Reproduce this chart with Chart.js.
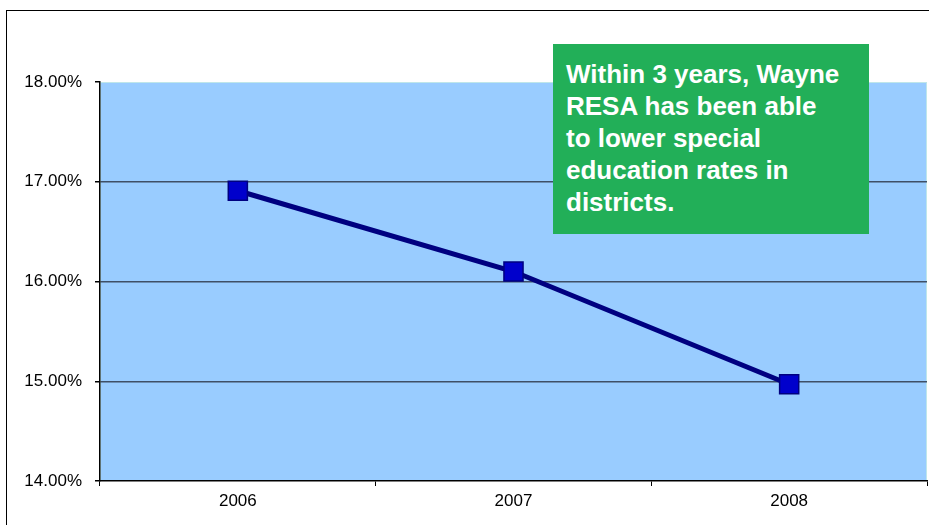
<!DOCTYPE html>
<html>
<head>
<meta charset="utf-8">
<script src="https://cdn.jsdelivr.net/npm/chart.js@4/dist/chart.umd.min.js"></script>
<style>
  body { margin: 0; background: #fff; }
  #wrap { position: relative; width: 929px; height: 525px; }
  #frame { position: absolute; left: 6px; top: 10px; right: -2px; bottom: -2px; border-top: 1.5px solid #000; border-left: 1.5px solid #000; }
  #note {
    position: absolute; left: 553px; top: 44px; width: 316px; height: 190px;
    background: #22af58; color: #fff; box-sizing: border-box;
    padding: 14px 0 0 13px;
    font: bold 26px "Liberation Sans", Arial, sans-serif; line-height: 32px;
    white-space: nowrap;
  }
</style>
</head>
<body>
<div id="wrap">
  <div id="frame"></div>
  <canvas id="myChart" width="929" height="525"></canvas>
  <div id="note">Within 3 years, Wayne<br>RESA has been able<br>to lower special<br>education rates in<br>districts.</div>
</div>
<script>
var years = ['2006', '2007', '2008'];
var rates = [16.91, 16.1, 14.97];
var yTicks = [14, 15, 16, 17, 18];

var plotBg = {
    id: 'plotBg',
    beforeDraw: function(chart) {
        var a = chart.chartArea;
        var ctx = chart.ctx;
        ctx.save();
        ctx.fillStyle = '#99ccff';
        ctx.fillRect(a.left, a.top, a.right - a.left, a.bottom - a.top);
        ctx.strokeStyle = '#bfe6ea';
        ctx.lineWidth = 1;
        ctx.strokeRect(a.left + 0.5, a.top + 0.5, a.right - a.left - 1, a.bottom - a.top - 1);
        ctx.restore();
    }
};

var ctx = document.getElementById('myChart').getContext('2d');
var myChart = new Chart(ctx, {
    type: 'line',
    data: {
        labels: years,
        datasets: [{
            data: rates,
            borderColor: '#000080',
            borderWidth: 5,
            pointStyle: 'rect',
            pointRadius: 13.5,
            pointBackgroundColor: '#0000cc',
            pointBorderColor: '#000080',
            pointBorderWidth: 1.5,
            tension: 0
        }]
    },
    options: {
        responsive: false,
        animation: false,
        layout: { autoPadding: false, padding: { top: 82, right: 2, left: 0, bottom: 0 } },
        plugins: { legend: { display: false }, tooltip: { enabled: false } },
        scales: {
            x: {
                offset: true,
                afterFit: function(scale) {
                    scale.height = 44;
                    scale.paddingLeft = 0;
                    scale.paddingRight = 0;
                },
                grid: { offset: true, drawOnChartArea: false, drawTicks: true, tickLength: 5, tickColor: '#000' },
                border: { display: true, color: '#000', width: 1.5 },
                ticks: { color: '#000', padding: 5, font: { family: 'Liberation Sans', size: 17 } }
            },
            y: {
                min: 14,
                max: 18,
                afterFit: function(scale) {
                    scale.width = 100;
                    scale.paddingTop = 0;
                    scale.paddingBottom = 0;
                },
                afterBuildTicks: function(scale) {
                    scale.ticks = yTicks.map(function(v) { return { value: v }; });
                },
                grid: {
                    color: function(c) { return (c.tick && (c.tick.value === 18 || c.tick.value === 14)) ? 'rgba(0,0,0,0)' : '#3f4f66'; },
                    lineWidth: 1.5,
                    tickColor: '#000',
                    tickLength: 5
                },
                border: { display: true, color: '#000', width: 1.5 },
                ticks: {
                    color: '#000',
                    padding: 13,
                    font: { family: 'Liberation Sans', size: 17 },
                    callback: function(v) { return v.toFixed(2) + '%'; }
                }
            }
        }
    },
    plugins: [plotBg]
});
</script>
</body>
</html>
